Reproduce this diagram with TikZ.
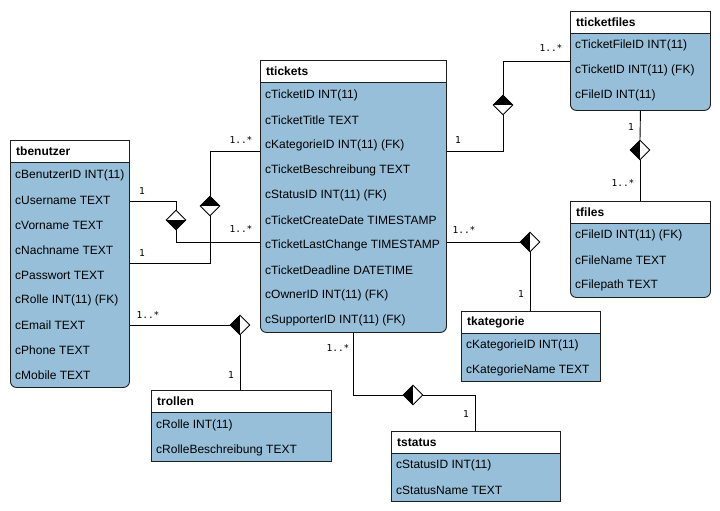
\documentclass[tikz,border=0pt]{standalone}
\usepackage{fontspec}
\setmainfont{Liberation Sans}
\newfontfamily\lblfont{DejaVu Sans Mono}
\usetikzlibrary{shapes.geometric}
\definecolor{tblblue}{RGB}{152,191,218}
\definecolor{edgegray}{RGB}{30,30,30}
\newcommand\mktable[7]{%
  \node[tbody,#7, minimum width=#4pt, minimum height={(#5-#3-11)*1pt}] (#1) at (#2,#3+11) {};
  \node[thead, minimum width=#4pt] (#1-h) at (#2,#3) {};
  \node[ttitle] (#1-t) at (#2+6,#3+11.5) {#6};
}
\newcommand\fld[4]{\node[tfield] (#1) at (#2,#3) {#4};}
\begin{document}
\begin{tikzpicture}[x=1pt,y=-1pt,
  thead/.style={draw=edgegray, fill=white, anchor=north west, minimum height=22pt, inner sep=0pt, line width=0.9pt},
  tbody/.style={draw=edgegray, fill=tblblue, anchor=north west, inner sep=0pt, line width=0.9pt},
  ttitle/.style={anchor=west, inner sep=0pt, font=\fontsize{12}{14}\selectfont\bfseries},
  tfield/.style={anchor=west, inner sep=0pt, font=\fontsize{12}{14}\selectfont},
  conn/.style={draw=black, line width=0.9pt},
  card/.style={inner sep=0pt, font=\lblfont\fontsize{9.5}{11}\selectfont},
  dm/.style={diamond, draw=black, fill=white, minimum width=20pt, minimum height=20pt, inner sep=0pt, aspect=1, line width=0.9pt},
  dL/.style={dm, path picture={\fill[black] (path picture bounding box.north west) rectangle (path picture bounding box.south);}},
  dT/.style={dm, path picture={\fill[black] (path picture bounding box.north west) rectangle (path picture bounding box.east);}},
  dB/.style={dm, path picture={\fill[black] (path picture bounding box.south west) rectangle (path picture bounding box.east);}},
]
\useasboundingbox[fill=white] (0,0) rectangle (720,511);

% ---------- tables ----------
\mktable{ben}{10}{140}{119}{387}{tbenutzer}{rounded corners=6pt}
\mktable{tick}{260}{60}{186}{332}{ttickets}{rounded corners=6pt}
\mktable{tf}{570}{11}{140}{110}{tticketfiles}{rounded corners=6pt}
\mktable{fil}{570}{201}{140}{297}{tfiles}{rounded corners=6pt}
\mktable{kat}{461}{311}{139}{381}{tkategorie}{}
\mktable{rol}{151}{390}{180}{461}{trollen}{}
\mktable{st}{391}{431}{169}{501}{tstatus}{}

% tbenutzer fields
\fld{ben1}{15}{175}{cBenutzerID INT(11)}
\fld{ben2}{15}{200}{cUsername TEXT}
\fld{ben3}{15}{225}{cVorname TEXT}
\fld{ben4}{15}{250}{cNachname TEXT}
\fld{ben5}{15}{275}{cPasswort TEXT}
\fld{ben6}{15}{300}{cRolle INT(11) (FK)}
\fld{ben7}{15}{325}{cEmail TEXT}
\fld{ben8}{15}{350}{cPhone TEXT}
\fld{ben9}{15}{375}{cMobile TEXT}
% ttickets fields
\fld{tick1}{265}{95}{cTicketID INT(11)}
\fld{tick2}{265}{120}{cTicketTitle TEXT}
\fld{tick3}{265}{145}{cKategorieID INT(11) (FK)}
\fld{tick4}{265}{170}{cTicketBeschreibung TEXT}
\fld{tick5}{265}{195}{cStatusID INT(11) (FK)}
\fld{tick6}{265}{220}{cTicketCreateDate TIMESTAMP}
\fld{tick7}{265}{245}{cTicketLastChange TIMESTAMP}
\fld{tick8}{265}{270}{cTicketDeadline DATETIME}
\fld{tick9}{265}{295}{cOwnerID INT(11) (FK)}
\fld{tick10}{265}{320}{cSupporterID INT(11) (FK)}
% tticketfiles fields
\fld{tf1}{575}{45}{cTicketFileID INT(11)}
\fld{tf2}{575}{70}{cTicketID INT(11) (FK)}
\fld{tf3}{575}{95}{cFileID INT(11)}
% tfiles fields
\fld{fil1}{575}{235}{cFileID INT(11) (FK)}
\fld{fil2}{575}{260}{cFileName TEXT}
\fld{fil3}{575}{285}{cFilepath TEXT}
% tkategorie fields
\fld{kat1}{466}{345}{cKategorieID INT(11)}
\fld{kat2}{466}{370}{cKategorieName TEXT}
% trollen fields
\fld{rol1}{156}{425}{cRolle INT(11)}
\fld{rol2}{156}{450}{cRolleBeschreibung TEXT}
% tstatus fields
\fld{st1}{396}{465}{cStatusID INT(11)}
\fld{st2}{396}{490}{cStatusName TEXT}

% ---------- diamonds ----------
\node[dB] (d1) at (176,220) {};
\node[dT] (d2) at (210,206) {};
\node[dL] (d3) at (240,325) {};
\node[dT] (d4) at (503,105) {};
\node[dL] (d5) at (640,150) {};
\node[dL] (d6) at (530,242) {};
\node[dL] (d7) at (413,395) {};

% ---------- connectors ----------
\draw[conn] (ben.east |- 0,201) -| (d1.north);
\draw[conn] (d1.south) |- (tick.west |- 0,242);
\draw[conn] (ben.east |- 0,263) -| (d2.south);
\draw[conn] (d2.north) |- (tick.west |- 0,151);
\draw[conn] (ben.east |- 0,325) -- (d3.west);
\draw[conn] (d3.south) -- (d3.south |- rol-h.north);
\draw[conn] (tick.east |- 0,151) -| (d4.south);
\draw[conn] (d4.north) |- (tf.west |- 0,61);
\draw[conn] (tf.south) -- (d5.north);
\draw[conn] (d5.south) -- (d5.south |- fil-h.north);
\draw[conn] (tick.east |- 0,242) -- (d6.west);
\draw[conn] (d6.south) -- (d6.south |- kat-h.north);
\draw[conn] (tick.south -| 353,0) |- (d7.west);
\draw[conn] (d7.east) -| (st-h.north -| 475,0);

% ---------- cardinalities ----------
\node[card] (l1) at (142,191) {1};
\node[card] (l2) at (142,253) {1};
\node[card] (l3) at (241,140) {1..*};
\node[card] (l4) at (241,229) {1..*};
\node[card] (l5) at (148,315) {1..*};
\node[card] (l6) at (231,375) {1};
\node[card] (l7) at (458,140) {1};
\node[card] (l8) at (551,48) {1..*};
\node[card] (l9) at (631,127) {1};
\node[card] (l10) at (623,183) {1..*};
\node[card] (l11) at (464,230) {1..*};
\node[card] (l12) at (521,294) {1};
\node[card] (l13) at (338,348) {1..*};
\node[card] (l14) at (466,414) {1};
\end{tikzpicture}
\end{document}
